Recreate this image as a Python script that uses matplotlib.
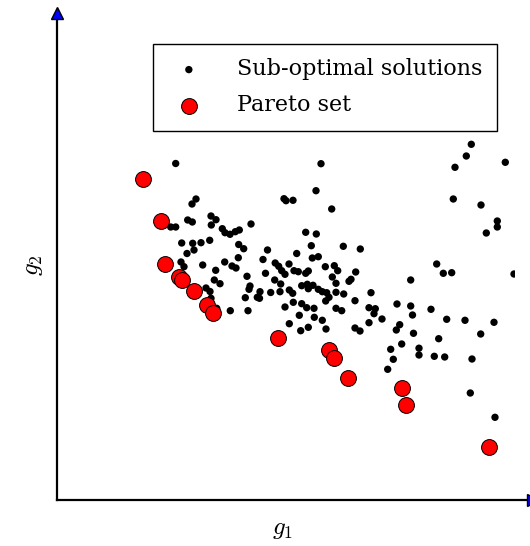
import matplotlib
matplotlib.use('Agg')
import matplotlib.pyplot as plt
import numpy as np

# sub-optimal solutions (g1, g2)
sub_g1 = [118.7, 139, 135, 130.7, 135.3, 113.7, 118.7, 154, 159, 154.3, 194, 165.3, 168, 173,
          178.3, 182.3, 124.7, 135.7, 144, 152.7, 137, 130, 181.7, 186.7, 210.5, 124, 127, 145.7,
          167.7, 175, 179, 181.3, 206, 218.2, 158.7, 190, 208.5, 157.3, 163, 193, 217.7, 192,
          203, 213.7, 149, 153, 188.3, 200.3, 202.5, 154, 159.7, 173.3, 191, 221.7,
          264, 259, 227, 229, 236, 274.7, 248.7, 259.3, 254.3, 286.3, 303.3, 239.7, 255.3, 261.3,
          232, 224.7, 237, 241.3, 248.7, 251.3, 228, 268.3, 277.3, 280.7, 298.7, 275.3, 294, 292,
          279, 223.7, 244.7, 250.3, 256, 251.3, 261.3, 265.3, 269.7, 272, 279, 286.7, 223, 232.3,
          235.7, 314, 268.7, 298, 236.3, 244.7, 249.7, 257, 228, 279, 284.7, 312, 242.3, 257.3,
          265.3, 232.3, 251.3, 243.7, 269, 298, 303, 312, 318.3, 317, 325, 340, 353.7, 353.7,
          355.5, 342.7, 339.3, 356.5, 344.7, 333.7, 336.3, 330.7, 362, 362,
          414.3, 409.3, 398, 448.3, 396.3, 424, 440.3, 440.3, 429.3, 379.7, 386.3, 394.7, 457,
          374, 389.7, 408, 437, 381.7, 423.7, 377.3, 387.7, 415, 413.3, 438]
sub_g2 = [336.5, 301, 296, 280, 278, 273, 273, 284, 280.3, 275, 276, 271.3, 267.3, 265.7,
          268.3, 270, 257, 256.7, 257.3, 259.7, 250, 246.5, 255.5, 251.3, 250, 238, 233.3, 235,
          238, 234, 232, 242.3, 240.5, 237, 229.7, 223.7, 226.7, 220, 216.3, 214, 220, 210.7,
          208.3, 207.5, 212, 208.5, 202.3, 202.7, 201.7, 201.7, 191.7, 189.3, 189.3, 233.7,
          336.3, 309.3, 301.3, 299.3, 299.7, 291, 267.7, 266, 254.3, 253.7, 251, 246.5, 242, 243.3,
          236, 229.3, 229.3, 228.3, 226.7, 229, 225.7, 233.3, 234.3, 229.3, 228, 223, 220.7, 218.7,
          216.7, 216, 214.3, 215.7, 214.7, 211.3, 210.7, 208.3, 207.3, 202.7, 207.7, 206, 208.3, 210,
          206.7, 207.3, 199, 199.3, 197.7, 196.3, 192.3, 191.7, 193, 191.7, 189.3, 192.3, 184.7, 182.7,
          179.7, 176.3, 172.7, 169.3, 171, 172, 169, 177.3, 191.3, 186.3, 181, 196, 220, 194,
          185, 175.3, 170, 166.7, 156, 150.7, 140.7, 130.7, 151.8, 145,
          355.7, 344, 332.7, 337.7, 301, 295, 279, 273, 267, 236, 226.7, 227.3, 226,
          190.7, 180.7, 179.7, 177.7, 161.3, 166, 143.7, 143, 141, 107, 82.7]

# pareto set
par_g1 = [86.3, 104.3, 107.7, 122.3, 125.3, 137, 150.3, 156, 221.3, 272.3, 277.3, 291, 344.5, 349, 432]
par_g2 = [320.7, 279, 235.7, 223.3, 219.7, 209, 195, 186.7, 161.7, 149.7, 141.7, 122, 112.3, 94.7, 52.7]

W, H = 530, 546
fig = plt.figure(figsize=(W / 100, H / 100), dpi=100)
# axes corner at pixel (57, 500), top at 13, right clip at 515
ax = fig.add_axes([57 / W, (H - 500) / H, (515 - 57) / W, (500 - 13) / H])
ax.set_xlim(0, 458)
ax.set_ylim(0, 487)

ax.scatter(sub_g1, sub_g2, s=28, c='k', edgecolors='none', label='Sub-optimal solutions', zorder=3)
ax.scatter(par_g1, par_g2, s=130, c='red', edgecolors='k', linewidths=0.7, label='Pareto set', zorder=4)

for sp in ax.spines.values():
    sp.set_visible(False)
ax.set_xticks([])
ax.set_yticks([])

# axis lines with blue arrow heads
ax.plot([0, 0], [0, 1], color='k', lw=1.6, transform=ax.transAxes, clip_on=False, zorder=5)
ax.plot([0, 1.04], [0, 0], color='k', lw=1.6, transform=ax.transAxes, clip_on=False, zorder=5)
ax.plot([0], [1], marker='^', ms=8.5, mfc='blue', mec='k', mew=1, transform=ax.transAxes,
        clip_on=False, zorder=6)
ax.plot([1.04], [0], marker='>', ms=8.5, mfc='blue', mec='k', mew=1, transform=ax.transAxes,
        clip_on=False, zorder=6)

plt.rcParams['mathtext.fontset'] = 'cm'
fig.text(283 / W, 1 - 529 / H, r'$g_1$', fontsize=18, ha='center', va='center')
fig.text(33 / W, 1 - 265 / H, r'$g_2$', fontsize=18, ha='center', va='center', rotation=90)

leg = ax.legend(loc='upper right', bbox_to_anchor=(497 / W, 1 - 44 / H),
                bbox_transform=fig.transFigure, borderaxespad=0, fancybox=False,
                edgecolor='k', framealpha=1, prop={'family': 'DejaVu Serif', 'size': 16},
                handletextpad=1.2, borderpad=0.65, labelspacing=0.63, handlelength=1.95)
leg.get_frame().set_linewidth(1.0)

plt.savefig('out.png', dpi=100)
